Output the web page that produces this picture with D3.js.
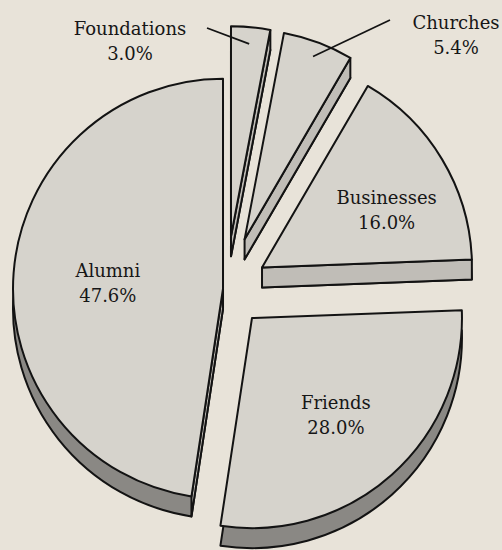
<!DOCTYPE html>
<html>
<head>
<meta charset="utf-8">
<script src="https://cdn.jsdelivr.net/npm/d3@7"></script>
<style>
html, body { margin: 0; padding: 0; background: #e8e3d9; }
svg { display: block; }
text { font-family: "DejaVu Serif", serif; font-size: 18px; fill: #161616; }
</style>
</head>
<body>
<svg width="502" height="550"></svg>
<script>
// data
const categories = ["Foundations", "Churches", "Businesses", "Friends", "Alumni"];
const shares = [3.0, 5.4, 16.0, 28.0, 47.6];
const pctLabels = ["3.0%", "5.4%", "16.0%", "28.0%", "47.6%"];

var svg = d3.select("svg");

// layout
const cx = 226, cy = 289, r = 210, depth = 20;
const explode = { Foundations: 53, Churches: 53, Businesses: 42, Friends: 39, Alumni: 3 };
// distance (fraction of radius) and angle nudge (degrees) for labels inside slices
const labelPos = { Businesses: [0.66, 5], Friends: [0.6, 0], Alumni: [0.55, 0] };
const outside = {
	Foundations: { x: 130, y: 35, from: [207, 28], at: 0.92 },
	Churches: { x: 456, y: 29, from: [390, 20], at: 0.93 }
};

const faceFill = "#d6d3cc";
const bandFill = "#8a8884";
const wallFill = "#c0bdb7";
const ink = "#131313";

const data = categories.map((c, i) => ({ name: c, value: shares[i], pct: pctLabels[i] }));

const pie = d3.pie().sort(null).value(d => d.value);
const arc = d3.arc().innerRadius(0).outerRadius(r);

const slices = pie(data).map(s => {
	let mid = (s.startAngle + s.endAngle) / 2;
	let e = explode[s.data.name];
	s.mid = mid;
	s.ox = cx + e * Math.sin(mid);
	s.oy = cy - e * Math.cos(mid);
	return s;
});

const bottoms = svg.append("g");
const walls = svg.append("g");
const tops = svg.append("g");
const labels = svg.append("g");

// extruded bottom face
bottoms.selectAll("path")
	.data(slices)
	.join("path")
	.attr("transform", d => `translate(${d.ox},${d.oy + depth})`)
	.attr("d", arc)
	.attr("fill", bandFill)
	.attr("stroke", ink)
	.attr("stroke-width", 2)
	.attr("stroke-linejoin", "round");

// radial side walls that face the viewer
let wallData = [];
slices.forEach(s => {
	if (Math.sin(s.startAngle) < -0.01) wallData.push({ s: s, a: s.startAngle });
	if (Math.sin(s.endAngle) > 0.01) wallData.push({ s: s, a: s.endAngle });
});

walls.selectAll("path")
	.data(wallData)
	.join("path")
	.attr("transform", d => `translate(${d.s.ox},${d.s.oy})`)
	.attr("d", d => {
		let x = r * Math.sin(d.a), y = -r * Math.cos(d.a);
		return d3.line()([[0, 0], [x, y], [x, y + depth], [0, depth]]) + "Z";
	})
	.attr("fill", wallFill)
	.attr("stroke", ink)
	.attr("stroke-width", 2)
	.attr("stroke-linejoin", "round");

// top faces
tops.selectAll("path")
	.data(slices)
	.join("path")
	.attr("transform", d => `translate(${d.ox},${d.oy})`)
	.attr("d", arc)
	.attr("fill", faceFill)
	.attr("stroke", ink)
	.attr("stroke-width", 2)
	.attr("stroke-linejoin", "round");

// labels inside the big slices
const inner = slices.filter(s => labelPos[s.data.name] != null);
const innerText = labels.selectAll("text.inner")
	.data(inner)
	.join("text")
	.attr("class", "inner")
	.attr("text-anchor", "middle")
	.attr("transform", d => {
		let k = labelPos[d.data.name][0] * r;
		let a = d.mid + labelPos[d.data.name][1] * Math.PI / 180;
		return `translate(${d.ox + k * Math.sin(a)},${d.oy - k * Math.cos(a)})`;
	});
innerText.append("tspan").attr("x", 0).attr("y", -3).text(d => d.data.name);
innerText.append("tspan").attr("x", 0).attr("y", 22).text(d => d.data.pct);

// labels outside the thin slices, with leader lines
const outer = slices.filter(s => outside[s.data.name] != null);
labels.selectAll("line")
	.data(outer)
	.join("line")
	.attr("x1", d => outside[d.data.name].from[0])
	.attr("y1", d => outside[d.data.name].from[1])
	.attr("x2", d => d.ox + outside[d.data.name].at * r * Math.sin(d.mid))
	.attr("y2", d => d.oy - outside[d.data.name].at * r * Math.cos(d.mid))
	.attr("stroke", ink)
	.attr("stroke-width", 1.7);

const outerText = labels.selectAll("text.outer")
	.data(outer)
	.join("text")
	.attr("class", "outer")
	.attr("text-anchor", "middle")
	.attr("transform", d => `translate(${outside[d.data.name].x},${outside[d.data.name].y})`);
outerText.append("tspan").attr("x", 0).attr("y", 0).text(d => d.data.name);
outerText.append("tspan").attr("x", 0).attr("y", 25).text(d => d.data.pct);
</script>
</body>
</html>
